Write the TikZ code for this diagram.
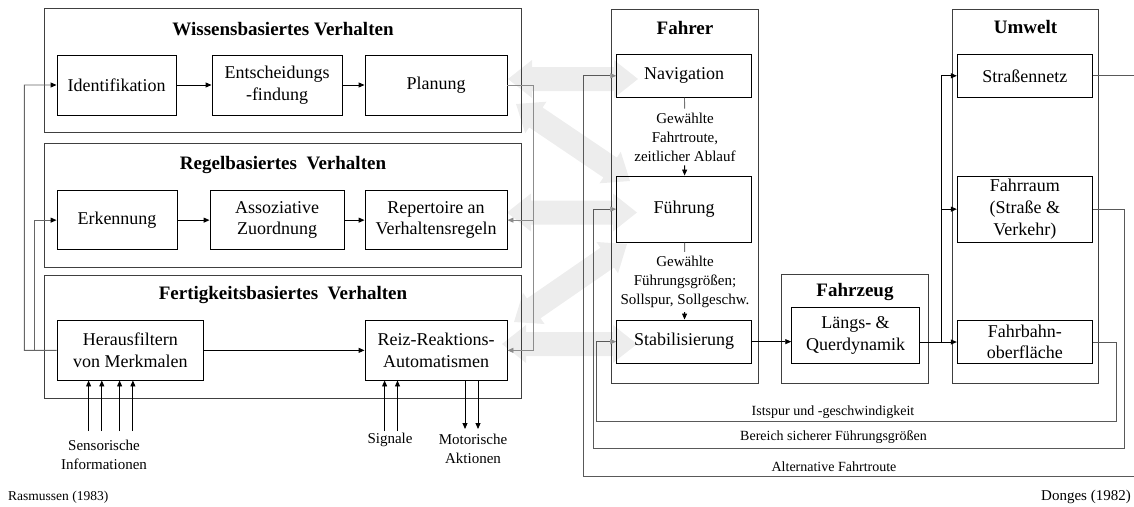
\documentclass[tikz,border=0pt]{standalone}
\usepackage{fontspec}
\setmainfont{Liberation Serif}
\usetikzlibrary{arrows.meta,calc}
\definecolor{blockgray}{RGB}{237,237,237}
\newcommand{\rbox}[7]{\node[#2, minimum width={(#5)-(#3)}, minimum height={(#6)-(#4)}] (#1) at ({((#3)+(#5))/2},{((#4)+(#6))/2}) {#7};}
\newcommand{\blockarr}[2]{%
 \coordinate (tmpa) at ($(#1)!24pt!(#2)$);
 \coordinate (tmpb) at ($(#2)!24pt!(#1)$);
 \fill[blockgray] (#1) -- ($(tmpa)!19pt!90:(#2)$) -- ($(tmpa)!12pt!90:(#2)$) -- ($(tmpb)!12pt!-90:(#1)$) -- ($(tmpb)!19pt!-90:(#1)$) -- (#2) -- ($(tmpb)!19pt!90:(#1)$) -- ($(tmpb)!12pt!90:(#1)$) -- ($(tmpa)!12pt!-90:(#2)$) -- ($(tmpa)!19pt!-90:(#2)$) -- cycle;}
\begin{document}
\begin{tikzpicture}[x=1pt,y=-1pt,
 outer/.style={draw=black!75, line width=0.9pt, inner sep=0pt},
 inner/.style={draw=black, line width=0.9pt, inner sep=0pt, align=center, font=\fontsize{18}{21.6}\selectfont},
 title/.style={font=\fontsize{19}{22}\selectfont\bfseries, inner sep=0pt},
 lab/.style={font=\fontsize{15}{19}\selectfont, align=center, inner sep=4pt},
 blab/.style={font=\fontsize{14}{18}\selectfont, align=center, inner sep=0pt},
 slab/.style={font=\fontsize{15}{19}\selectfont, align=center, inner sep=0pt},
 src/.style={font=\fontsize{13.5}{16}\selectfont, inner sep=0pt},
 conn/.style={draw=black, line width=0.9pt, -{Triangle[length=6pt,width=5pt]}},
 stub/.style={draw=black!55, line width=0.9pt},
 fbl/.style={draw=black!60, line width=0.9pt, -{Triangle[length=6pt,width=5pt,color=black]}},
 grl/.style={draw=black!45, line width=0.9pt, -{Triangle[length=6pt,width=5pt]}},
 rfl/.style={draw=black!65, line width=0.9pt, -{Triangle[length=6pt,width=5pt,color=black!45]}}]
\useasboundingbox (0,0) rectangle (1134,506);

% big background double arrows
\coordinate (ba1s) at (508,79);   \coordinate (ba1e) at (638,79);
\coordinate (ba2s) at (516,104);  \coordinate (ba2e) at (630,181);
\coordinate (ba3s) at (507,212.5);\coordinate (ba3e) at (637,212.5);
\coordinate (ba4s) at (514,322);  \coordinate (ba4e) at (627,244);
\coordinate (ba5s) at (502,344);  \coordinate (ba5e) at (637,344);
\blockarr{ba1s}{ba1e}
\blockarr{ba2s}{ba2e}
\blockarr{ba3s}{ba3e}
\blockarr{ba4s}{ba4e}
\blockarr{ba5s}{ba5e}

% Rasmussen side
\rbox{wiss}{outer}{44.6}{8.9}{521.4}{132.9}{}
\node[title] (wisst) at (283,28.6) {Wissensbasiertes Verhalten};
\rbox{ident}{inner}{57}{55}{176}{115}{Identifikation}
\rbox{entsch}{inner}{212}{55}{342}{115}{Entscheidungs\\-findung}
\rbox{plan}{inner}{365}{55}{507}{115}{Planung}

\rbox{regel}{outer}{44.6}{143.6}{521.4}{267.5}{}
\node[title] (regelt) at (283,164.6) {Regelbasiertes\ \ Verhalten};
\rbox{erk}{inner}{57}{190.7}{177}{249.6}{Erkennung}
\rbox{assoz}{inner}{210}{190.7}{344}{249.6}{Assoziative\\Zuordnung}
\rbox{rep}{inner}{365}{190.7}{507}{249.6}{Repertoire an\\Verhaltensregeln}

\rbox{fert}{outer}{44.6}{275.4}{521.4}{398.6}{}
\node[title] (fertt) at (283,295) {Fertigkeitsbasiertes\ \ Verhalten};
\rbox{heraus}{inner}{57}{320.7}{203.6}{380}{Herausfiltern\\von Merkmalen}
\rbox{reiz}{inner}{365}{320.7}{507}{380}{Reiz-Reaktions-\\Automatismen}

\draw[conn] (ident) -- (entsch);
\draw[conn] (entsch) -- (plan);
\draw[conn] (erk) -- (assoz);
\draw[conn] (assoz) -- (rep);
\draw[conn] (heraus) -- (reiz);

\draw[fbl] (heraus.west) -- (24.3,350.35) |- (ident.west);
\draw[fbl] (34,350.35) |- (erk.west);
\draw[grl] (plan.east) -- (533,85) |- (reiz.east);
\draw[grl] (533,220.15) -- (rep.east);

\foreach \x [count=\i] in {88.6,101.8,119.6,132.9}
  {\coordinate (s\i) at (\x,431); \draw[conn] (s\i) -- (s\i |- heraus.south);}
\node[slab] (sens) at (104,455) {Sensorische\\Informationen};
\foreach \x [count=\i] in {384.6,397.5}
  {\coordinate (g\i) at (\x,431); \draw[conn] (g\i) -- (g\i |- reiz.south);}
\node[slab] (sig) at (390,440) {Signale};
\foreach \x [count=\i] in {465,478}
  {\coordinate (m\i) at (\x,429); \draw[conn] (m\i |- reiz.south) -- (m\i);}
\node[slab] (mot) at (473,449) {Motorische\\Aktionen};
\node[src, anchor=west] (ras) at (8,497.5) {Rasmussen (1983)};

% Donges side
\rbox{fahrer}{outer}{611.7}{9.3}{758}{383.3}{}
\node[title] (fahrert) at (685,28.3) {Fahrer};
\rbox{nav}{inner}{616.7}{54.3}{751.7}{97.3}{Navigation}
\rbox{fuehr}{inner}{616.7}{176}{751.7}{242.3}{Führung}
\rbox{stab}{inner}{616.7}{320}{751.7}{363.3}{Stabilisierung}
\node[lab] (l1) at (685,137) {Gewählte\\Fahrtroute,\\zeitlicher Ablauf};
\node[lab] (l2) at (685,282) {Gewählte\\Führungsgrößen;\\Sollspur, Sollgeschw.};
\draw[stub] (nav) -- (l1);
\draw[conn] (l1) -- (fuehr);
\draw[stub] (fuehr) -- (l2);
\draw[conn] (l2) -- (stab);

\rbox{fzg}{outer}{781.7}{274.3}{928.3}{383.3}{}
\node[title] (fzgt) at (855,291.7) {Fahrzeug};
\rbox{laengs}{inner}{791.7}{307.3}{919.3}{363.3}{Längs- \&\\Querdynamik}

\rbox{umwelt}{outer}{952.7}{9.3}{1098.3}{383.3}{}
\node[title] (umweltt) at (1025.5,26.7) {Umwelt};
\rbox{strassen}{inner}{957.3}{54.3}{1092.3}{97.3}{Straßennetz}
\rbox{fraum}{inner}{957.3}{176}{1092.3}{242.3}{Fahrraum\\(Straße \&\\Verkehr)}
\rbox{fbahn}{inner}{957.3}{320.7}{1092.3}{363.3}{Fahrbahn-\\oberfläche}

\draw[conn] (stab.east) -- (stab.east -| laengs.west);
\draw[conn] (laengs.east |- fbahn.west) -- (fbahn.west);
\coordinate (jn) at (941,342);
\draw[conn] (jn) |- (strassen.west);
\draw[conn] (jn |- fraum.west) -- (fraum.west);

\draw[rfl] (strassen.east) -- (1136,75.8) |- (583.3,476.7) |- (nav.west);
\draw[rfl] (fraum.east) -- (1124.3,209.15) |- (593.3,448.3) |- (fuehr.west);
\draw[rfl] (fbahn.east) -- (1116.7,342) |- (596.7,421.7) |- (stab.west);

\node[blab] (ist) at (833,411.7) {Istspur und -geschwindigkeit};
\node[blab] (ber) at (833.5,437.5) {Bereich sicherer Führungsgrößen};
\node[blab] (alt) at (834,466.7) {Alternative Fahrtroute};
\node[src, font=\fontsize{15}{17}\selectfont, anchor=east] (don) at (1131,496.7) {Donges (1982)};
\end{tikzpicture}
\end{document}
